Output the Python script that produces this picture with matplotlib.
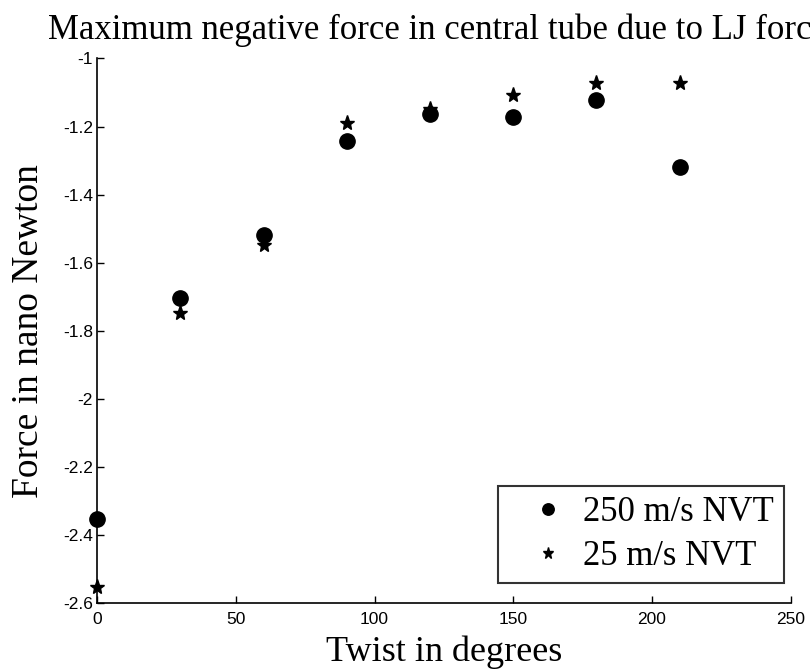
import matplotlib
matplotlib.use("Agg")
import matplotlib.pyplot as plt

twist = [0, 30, 60, 90, 120, 150, 180, 210]
force_250 = [-2.353, -1.704, -1.518, -1.243, -1.164, -1.173, -1.122, -1.318]
force_25 = [-2.552, -1.747, -1.548, -1.188, -1.148, -1.108, -1.072, -1.072]
xticks = [0, 50, 100, 150, 200, 250]
yticks = [-2.6, -2.4, -2.2, -2, -1.8, -1.6, -1.4, -1.2, -1]
ytick_labels = ["-2.6", "-2.4", "-2.2", "-2", "-1.8", "-1.6", "-1.4", "-1.2", "-1"]

serif = "Liberation Serif"
sans = "Liberation Sans"

fig = plt.figure(figsize=(8.1, 6.72), dpi=100)
ax = fig.add_axes([0.12, 0.102, 0.856, 0.811])

ax.plot(twist, force_250, linestyle="none", marker="o", markersize=11,
        color="black", label="250 m/s NVT", clip_on=False)
ax.plot(twist, force_25, linestyle="none", marker="*", markersize=11,
        color="black", label="25 m/s NVT", clip_on=False)

ax.set_xlim(0, 250)
ax.set_ylim(-2.6, -1)
ax.set_xticks(xticks)
ax.set_xticklabels([str(v) for v in xticks], fontfamily=sans, fontsize=12.5)
ax.set_yticks(yticks)
ax.set_yticklabels(ytick_labels, fontfamily=sans, fontsize=12.5)
ax.tick_params(direction="in", length=5, width=1)
ax.tick_params(axis="x", pad=6)
ax.tick_params(axis="y", pad=3)

for s in ["top", "right"]:
    ax.spines[s].set_visible(False)
for s in ["left", "bottom"]:
    ax.spines[s].set_linewidth(1.2)

ax.set_xlabel("Twist in degrees", fontfamily=serif, fontsize=26, labelpad=6)
ax.set_ylabel("Force in nano Newton", fontfamily=serif, fontsize=27, labelpad=12)
ax.set_title("Maximum negative force in central tube due to LJ forces",
             fontfamily=serif, fontsize=25, pad=14)

leg = ax.legend(loc="lower right", bbox_to_anchor=(0.991, 0.037),
                borderaxespad=0, prop={"family": serif, "size": 25},
                markerscale=0.75, fancybox=False, frameon=True,
                handlelength=2.3, handletextpad=-0.15, borderpad=0.3,
                labelspacing=0.3)
leg.get_frame().set_edgecolor("black")
leg.get_frame().set_linewidth(1.5)

fig.savefig("out.png", dpi=100)
